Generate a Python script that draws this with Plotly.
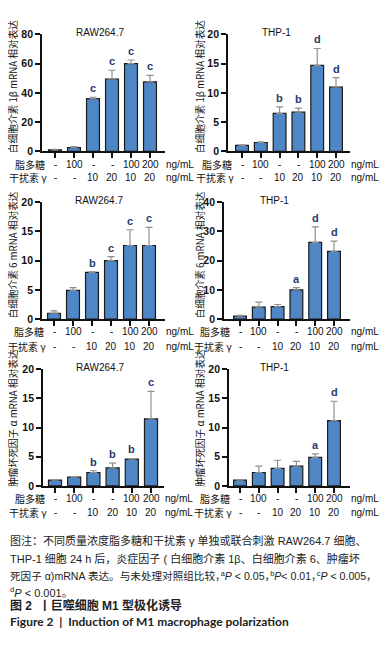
import plotly.graph_objects as go

# ---------------- data ----------------
lps_labels = ['-', '100', '-', '-', '100', '200']
ifn_labels = ['-', '-', '10', '20', '10', '20']
unit_label = 'ng/mL'

raw_il1b = [1.0, 2.5, 36.0, 49.5, 60.0, 47.5]
raw_il1b_err = [0.3, 0.7, 1.0, 6.0, 2.5, 4.5]
raw_il1b_sig = ['', '', 'c', 'c', 'c', 'c']

thp_il1b = [1.0, 1.5, 6.5, 6.7, 14.7, 11.0]
thp_il1b_err = [0.1, 0.1, 1.1, 0.7, 2.9, 1.6]
thp_il1b_sig = ['', '', 'b', 'b', 'd', 'd']

raw_il6 = [1.0, 4.9, 8.0, 10.0, 12.6, 12.6]
raw_il6_err = [0.4, 0.5, 0.1, 0.7, 2.7, 3.1]
raw_il6_sig = ['', '', 'b', 'c', 'c', 'c']

thp_il6 = [1.0, 4.1, 4.3, 10.0, 26.3, 23.2]
thp_il6_err = [0.3, 1.7, 0.7, 0.8, 5.3, 3.5]
thp_il6_sig = ['', '', '', 'a', 'd', 'd']

raw_tnf = [1.0, 1.5, 2.3, 3.1, 4.6, 11.5]
raw_tnf_err = [0.1, 0.05, 0.3, 0.8, 0.1, 4.7]
raw_tnf_sig = ['', '', 'b', 'b', 'b', 'c']

thp_tnf = [1.0, 2.3, 3.0, 3.4, 4.9, 11.2]
thp_tnf_err = [0.05, 1.1, 1.4, 0.8, 0.6, 3.3]
thp_tnf_sig = ['', '', '', '', 'a', 'd']

cell_titles = ['RAW264.7', 'THP-1']
ytitles = ['白细胞介素 1β mRNA 相对表达', '白细胞介素 6 mRNA 相对表达', '肿瘤坏死因子 α mRNA 相对表达']
yranges = [[0, 80], [0, 20], [0, 20], [0, 40], [0, 20], [0, 20]]
ydticks = [20, 5, 5, 10, 5, 5]
row_names = ['脂多糖', '干扰素 γ']

CM = '<span style="letter-spacing:-5px">，</span>'
caption_lines = [
    '图注：不同质量浓度脂多糖和干扰素 γ 单独或联合刺激 RAW264.7 细胞、',
    'THP-1 细胞 24 h 后，炎症因子 ( 白细胞介素 1β、白细胞介素 6、肿瘤坏',
    '死因子 α)mRNA 表达。与未处理对照组比较' + CM + '<sup>a</sup><i>P</i> < 0.05' + CM
    + '<sup>b</sup><i>P</i>< 0.01' + CM + '<sup>c</sup><i>P</i> < 0.005' + CM,
    '<sup>d</sup><i>P</i> < 0.001。',
]
caption_sizes = [11, 11, 10.6, 11]
fig_title_cn = '<b>图 2  丨巨噬细胞 M1 型极化诱导</b>'
fig_title_en = '<b>Figure 2  |  Induction of M1 macrophage polarization</b>'

# ---------------- layout helpers ----------------
W, H = 383, 647
def px(p):
    return p / W
def py(p):
    return 1 - p / H

FONT = 'Liberation Sans, Arial, Noto Sans CJK SC'
CJK = 'Noto Sans CJK SC, Liberation Sans'
CAP = 'Liberation Sans, Noto Sans CJK SC'
BAR_COLOR = '#4f86c6'
SIG_COLOR = '#1f3a70'

series = [
    (raw_il1b, raw_il1b_err, raw_il1b_sig),
    (thp_il1b, thp_il1b_err, thp_il1b_sig),
    (raw_il6, raw_il6_err, raw_il6_sig),
    (thp_il6, thp_il6_err, thp_il6_sig),
    (raw_tnf, raw_tnf_err, raw_tnf_sig),
    (thp_tnf, thp_tnf_err, thp_tnf_sig),
]

# pixel geometry per panel: axis left, axis right, first bar centre, last bar centre
xgeom = [
    (42, 165, 55, 150),
    (228, 350, 242, 336),
    (42, 165, 54, 149),
    (224, 350, 240, 334),
    (43, 164, 55, 151),
    (229, 350, 240, 334),
]
rows_px = [(29, 148), (200, 319), (370, 489)]
label_rows_px = [(162, 175), (332, 347), (502, 516)]
ytitle_bottom = [152, 321, 492]

fig = go.Figure()
annotations = []
xpos = list(range(6))

for k, (vals, errs, sigs) in enumerate(series):
    row, col = divmod(k, 2)
    ax = '' if k == 0 else str(k + 1)
    xl, xr, c0, c5 = xgeom[k]
    step = (c5 - c0) / 5.0
    xrange = [(xl - c0) / step, (xr - c0) / step]
    yt, yb = rows_px[row]

    fig.add_trace(go.Bar(
        x=xpos, y=vals, width=0.68,
        marker=dict(color=BAR_COLOR, line=dict(color='#1a1a1a', width=1.2)),
        error_y=dict(type='data', array=errs, arrayminus=[0] * 6, symmetric=False,
                     color='#8f8f8f', thickness=1.2, width=3.5),
        xaxis='x' + ax, yaxis='y' + ax, showlegend=False,
    ))

    fig.layout['xaxis' + ax] = dict(
        domain=[px(xl), px(xr)], range=xrange, anchor='y' + ax,
        showline=True, linecolor='#111', linewidth=1.8,
        ticks='outside', ticklen=5, tickwidth=1.5, tickcolor='#111',
        tickvals=xpos, showticklabels=False, showgrid=False, zeroline=False, fixedrange=True,
    )
    fig.layout['yaxis' + ax] = dict(
        domain=[py(yb), py(yt)], range=yranges[k], anchor='x' + ax,
        showline=True, linecolor='#111', linewidth=1.8,
        ticks='outside', ticklen=5, tickwidth=1.5, tickcolor='#111',
        dtick=ydticks[k], tick0=0, showgrid=False, zeroline=False,
        tickfont=dict(family=FONT, size=10.5, color='#111', weight='bold'),
        fixedrange=True,
    )

    # significance letters
    for i, s in enumerate(sigs):
        if s:
            annotations.append(dict(
                x=i, y=vals[i] + errs[i], xref='x' + ax, yref='y' + ax,
                text=s, showarrow=False, yanchor='bottom', yshift=1,
                font=dict(family=FONT, size=11, color=SIG_COLOR, weight='bold'),
            ))

    # panel title
    annotations.append(dict(
        x=px((c0 + c5) / 2.0 - (3 if col == 0 else 13)), y=py(yt - 2), xref='paper', yref='paper',
        text=cell_titles[col], showarrow=False, xanchor='center', yanchor='middle',
        font=dict(family=FONT, size=10, color='#111'),
    ))

    # y-axis title
    annotations.append(dict(
        x=px(13 if col == 0 else 200), y=py(ytitle_bottom[row]), xref='paper', yref='paper',
        text=ytitles[row], textangle=-90, showarrow=False,
        xanchor='center', yanchor='bottom',
        font=dict(family=CJK, size=9.7, color='#111'),
    ))

    # treatment rows
    ly1, ly2 = label_rows_px[row]
    for (ly, labels, name, name_right) in [
        (ly1, lps_labels, row_names[0], (c0 - 8)),
        (ly2, ifn_labels, row_names[1], (c0 - 6)),
    ]:
        annotations.append(dict(
            x=px(name_right), y=py(ly), xref='paper', yref='paper',
            text=name, showarrow=False, xanchor='right', yanchor='middle',
            font=dict(family=CJK, size=10, color='#111'),
        ))
        for i, t in enumerate(labels):
            annotations.append(dict(
                x=i, y=py(ly), xref='x' + ax, yref='paper',
                text=t, showarrow=False, xanchor='center', yanchor='middle',
                font=dict(family=FONT, size=10, color='#111'),
            ))
        annotations.append(dict(
            x=px(xr - 1), y=py(ly), xref='paper', yref='paper',
            text=unit_label, showarrow=False, xanchor='left', yanchor='middle',
            font=dict(family=FONT, size=10, color='#111'),
        ))

# caption
cap_y = [545, 563, 580, 597]
for t, yy, sz in zip(caption_lines, cap_y, caption_sizes):
    annotations.append(dict(
        x=px(8), y=py(yy), xref='paper', yref='paper', text=t, showarrow=False,
        xanchor='left', yanchor='middle',
        font=dict(family=CAP, size=sz, color='#222'),
    ))
annotations.append(dict(
    x=px(8), y=py(611), xref='paper', yref='paper', text=fig_title_cn, showarrow=False,
    xanchor='left', yanchor='middle', font=dict(family=CAP, size=12, color='#222'),
))
annotations.append(dict(
    x=px(8), y=py(627), xref='paper', yref='paper', text=fig_title_en, showarrow=False,
    xanchor='left', yanchor='middle', font=dict(family='Lato, Liberation Sans', size=12, color='#222'),
))

fig.update_layout(
    width=W, height=H, margin=dict(l=0, r=0, t=0, b=0),
    paper_bgcolor='white', plot_bgcolor='white',
    annotations=annotations, bargap=0.3,
)

fig.write_html('out.html', config={'displayModeBar': False},
               post_script="document.body.style.margin='0';document.body.style.overflow='hidden';")
